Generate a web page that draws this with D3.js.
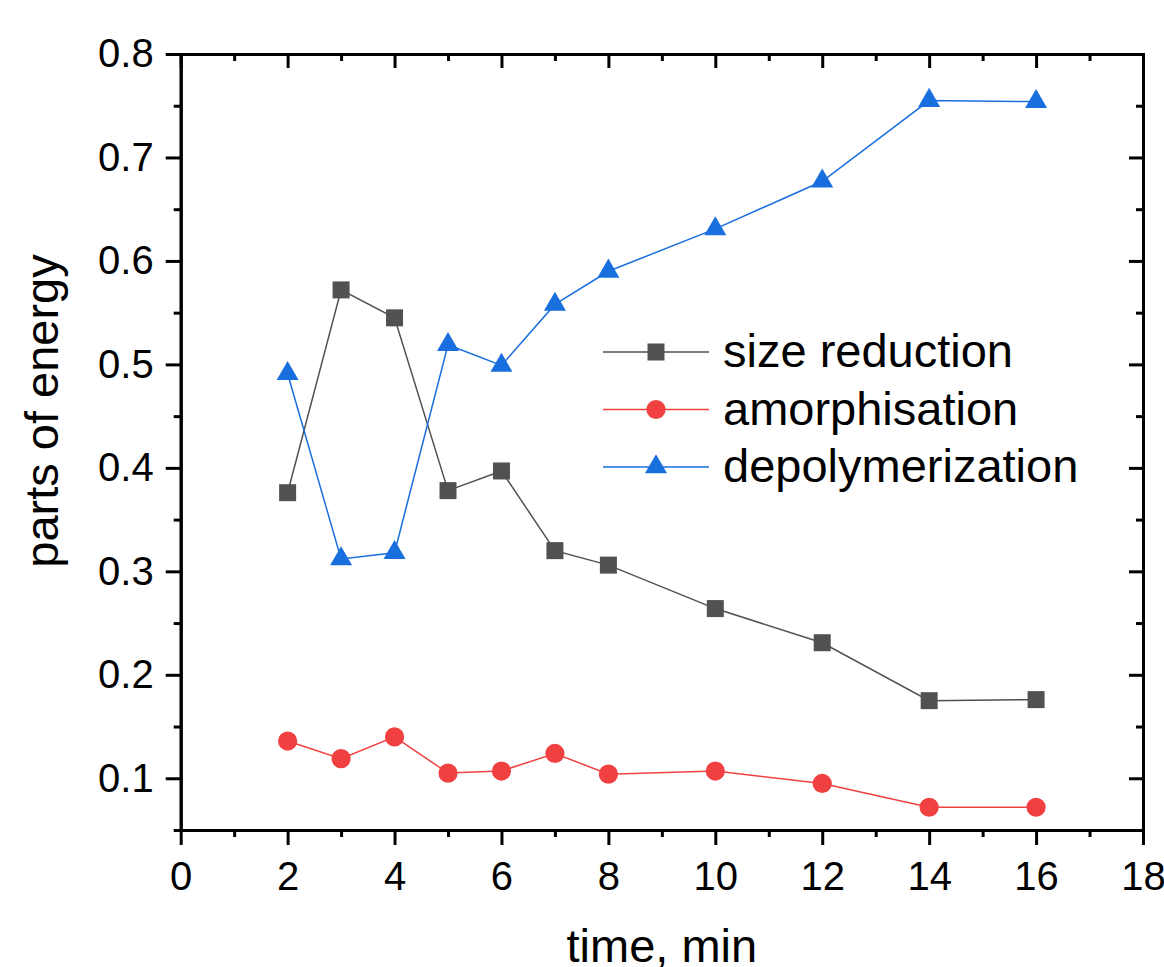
<!DOCTYPE html>
<html>
<head>
<meta charset="utf-8">
<script src="https://cdn.jsdelivr.net/npm/d3@7"></script>
<style>
  body { margin: 0; background: #fff; }
  text { font-family: "Liberation Sans", Arial, sans-serif; fill: #000; }
  .axis path, .axis line { stroke: #000; stroke-width: 3; }
  .axis path { stroke-linecap: square; }
</style>
</head>
<body>
<script>
// data
const times = [2, 3, 4, 5, 6, 7, 8, 10, 12, 14, 16];
const sizeReduction = [0.376, 0.572, 0.545, 0.378, 0.397, 0.320, 0.306, 0.264, 0.231, 0.175, 0.176];
const amorphisation = [0.136, 0.119, 0.140, 0.105, 0.107, 0.124, 0.104, 0.107, 0.095, 0.072, 0.072];
const depolymerization = [0.491, 0.312, 0.318, 0.519, 0.499, 0.558, 0.590, 0.631, 0.677, 0.755, 0.754];
const seriesNames = ["size reduction", "amorphisation", "depolymerization"];
const xTicks = [0, 2, 4, 6, 8, 10, 12, 14, 16, 18];
const yTicks = [0.1, 0.2, 0.3, 0.4, 0.5, 0.6, 0.7, 0.8];

const svgWidth = 1164,
    svgHeight = 967,
    plot = { left: 180.7, right: 1143, top: 54, bottom: 830 };

const colors = ["#515151", "#F14040", "#1A6FDF"];
const shapes = [d3.symbolSquare, d3.symbolCircle, d3.symbolTriangle];
const sizes = [289, 290, 210];

var x = d3.scaleLinear().domain([0, 18]).range([plot.left, plot.right]);
var y = d3.scaleLinear().domain([0.05, 0.8]).range([plot.bottom, plot.top]);

var svg = d3.select("body").append("svg")
    .attr("width", svgWidth)
    .attr("height", svgHeight);

var xMinor = d3.range(1, 18, 2);
var yMinor = d3.range(0.05, 0.8, 0.1).map(function (v) { return +v.toFixed(2); });

// bottom axis (outward ticks, labels)
svg.append("g").attr("class", "axis")
    .attr("transform", "translate(0," + plot.bottom + ")")
    .call(d3.axisBottom(x).tickValues(xMinor).tickSize(7).tickSizeOuter(0).tickFormat(""));
svg.append("g").attr("class", "axis")
    .attr("transform", "translate(0," + plot.bottom + ")")
    .call(d3.axisBottom(x).tickValues(xTicks).tickSize(15).tickSizeOuter(0).tickPadding(17).tickFormat(d3.format("d")))
    .selectAll("text").attr("font-size", 40);

// left axis
svg.append("g").attr("class", "axis")
    .attr("transform", "translate(" + plot.left + ",0)")
    .call(d3.axisLeft(y).tickValues(yMinor).tickSize(7).tickSizeOuter(0).tickFormat(""));
svg.append("g").attr("class", "axis")
    .attr("transform", "translate(" + plot.left + ",0)")
    .call(d3.axisLeft(y).tickValues(yTicks).tickSize(15).tickSizeOuter(0).tickPadding(12).tickFormat(d3.format(".1f")))
    .selectAll("text").attr("font-size", 40);

// top axis (inward ticks, no labels)
svg.append("g").attr("class", "axis")
    .attr("transform", "translate(0," + plot.top + ")")
    .call(d3.axisTop(x).tickValues(xMinor).tickSize(-7).tickSizeOuter(0).tickFormat(""));
svg.append("g").attr("class", "axis")
    .attr("transform", "translate(0," + plot.top + ")")
    .call(d3.axisTop(x).tickValues(xTicks).tickSize(-14).tickSizeOuter(0).tickFormat(""));

// right axis (inward ticks, no labels)
svg.append("g").attr("class", "axis")
    .attr("transform", "translate(" + plot.right + ",0)")
    .call(d3.axisRight(y).tickValues(yMinor).tickSize(-7).tickSizeOuter(0).tickFormat(""));
svg.append("g").attr("class", "axis")
    .attr("transform", "translate(" + plot.right + ",0)")
    .call(d3.axisRight(y).tickValues(yTicks).tickSize(-14).tickSizeOuter(0).tickFormat(""));

// axis titles
svg.append("text")
    .attr("x", (plot.left + plot.right) / 2)
    .attr("y", 962)
    .attr("text-anchor", "middle")
    .attr("font-size", 47)
    .text("time, min");

svg.append("text")
    .attr("transform", "translate(58,411) rotate(-90)")
    .attr("text-anchor", "middle")
    .attr("font-size", 47)
    .text("parts of energy");

// series
var allSeries = [sizeReduction, amorphisation, depolymerization];
var line = d3.line()
    .x(function (d) { return x(d[0]); })
    .y(function (d) { return y(d[1]); });

allSeries.forEach(function (vals, i) {
    var pts = times.map(function (t, j) { return [t, vals[j]]; });
    var g = svg.append("g");
    g.append("path")
        .attr("d", line(pts))
        .attr("fill", "none")
        .attr("stroke", colors[i])
        .attr("stroke-width", 1.5);
    g.selectAll("path.pt")
        .data(pts)
        .enter().append("path")
        .attr("class", "pt")
        .attr("transform", function (d) { return "translate(" + x(d[0]) + "," + y(d[1]) + ")"; })
        .attr("d", d3.symbol().type(shapes[i]).size(sizes[i]))
        .attr("fill", colors[i]);
});

// legend
var legend = svg.append("g").attr("transform", "translate(603,352)");
seriesNames.forEach(function (name, i) {
    var row = legend.append("g").attr("transform", "translate(0," + (i * 57.5) + ")");
    row.append("line")
        .attr("x1", 0).attr("x2", 106)
        .attr("stroke", colors[i])
        .attr("stroke-width", 1.5);
    row.append("path")
        .attr("transform", "translate(53,0)")
        .attr("d", d3.symbol().type(shapes[i]).size(sizes[i]))
        .attr("fill", colors[i]);
    row.append("text")
        .attr("x", 120)
        .attr("y", 15)
        .attr("font-size", 47)
        .text(name);
});
</script>
</body>
</html>
